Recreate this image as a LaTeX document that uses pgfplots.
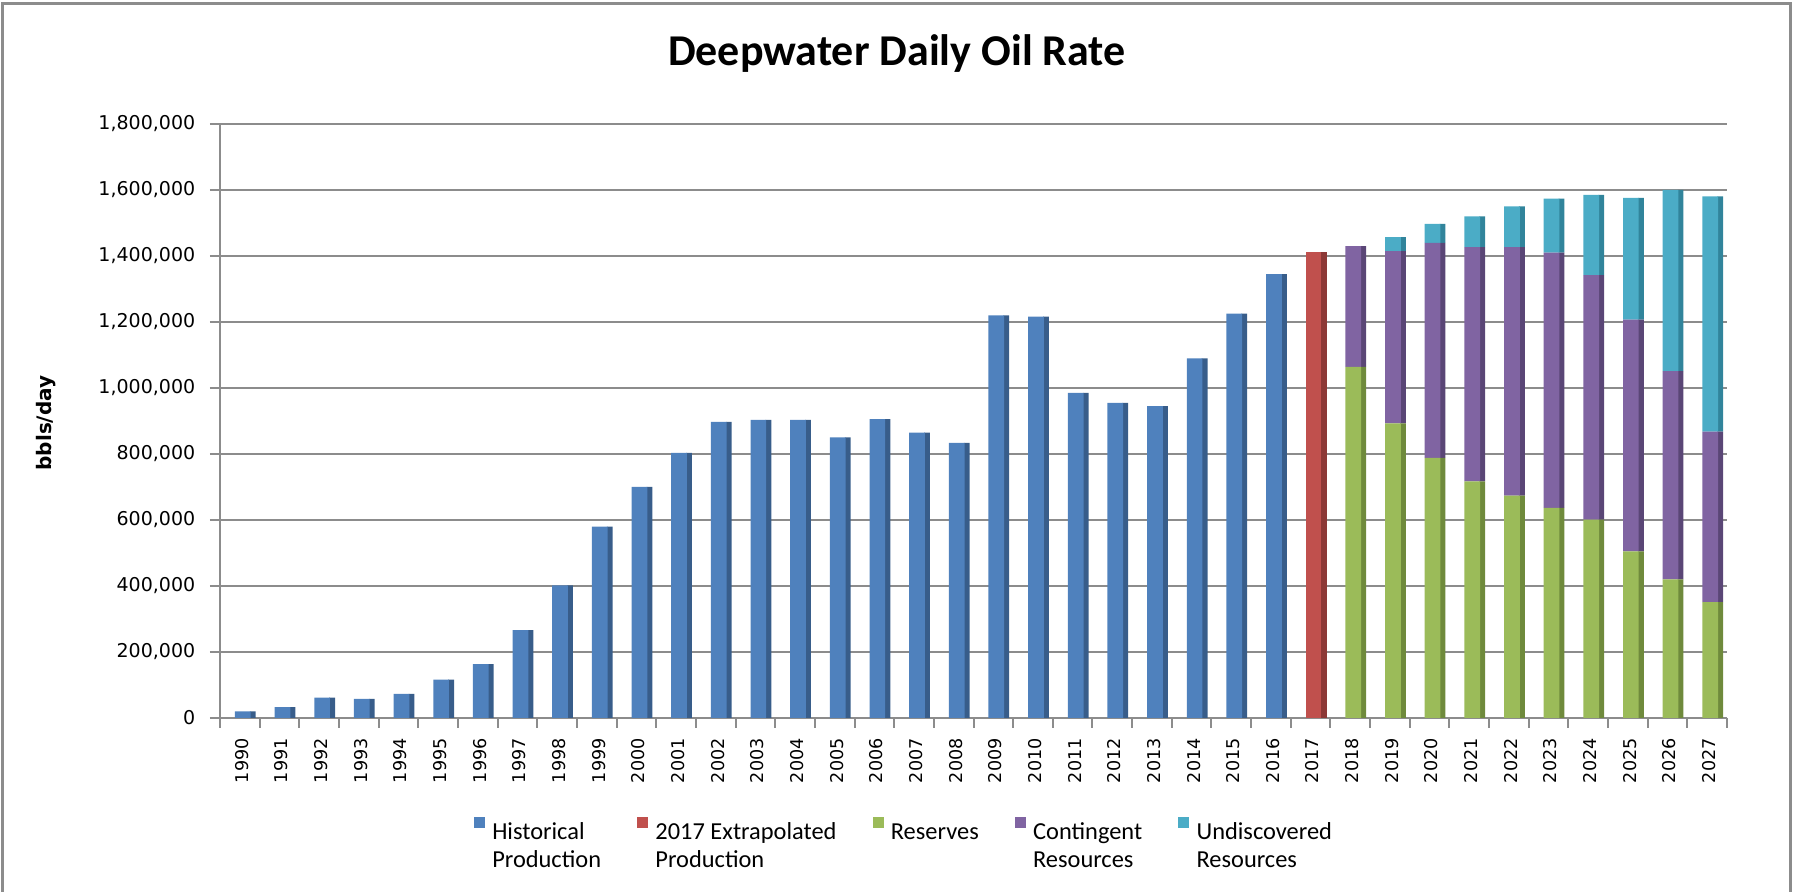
\documentclass[border=0pt]{standalone}
\usepackage{pgfplots}
\pgfplotsset{compat=1.18}
\usepackage{pgfplotstable}
\usepackage{fontspec}
\setmainfont{Carlito}
\newfontfamily\dejavu{DejaVu Sans}

\definecolor{cHist}{HTML}{4F81BD}
\definecolor{sHist}{HTML}{385D8A}
\definecolor{cExt}{HTML}{C0504D}
\definecolor{sExt}{HTML}{8C3836}
\definecolor{cRes}{HTML}{9BBB59}
\definecolor{sRes}{HTML}{6F8A3C}
\definecolor{cCont}{HTML}{8064A2}
\definecolor{sCont}{HTML}{5A4676}
\definecolor{cUnd}{HTML}{4BACC6}
\definecolor{sUnd}{HTML}{31849B}
\definecolor{gridgray}{HTML}{8C8C8C}
\definecolor{bordergray}{HTML}{8C8C8C}

\pgfplotstableread{
x hist ext res cont und
0 20000 0 0 0 0
1 33000 0 0 0 0
2 62000 0 0 0 0
3 58000 0 0 0 0
4 73000 0 0 0 0
5 116000 0 0 0 0
6 163000 0 0 0 0
7 266000 0 0 0 0
8 402000 0 0 0 0
9 580000 0 0 0 0
10 700000 0 0 0 0
11 803000 0 0 0 0
12 897000 0 0 0 0
13 903000 0 0 0 0
14 903000 0 0 0 0
15 850000 0 0 0 0
16 906000 0 0 0 0
17 865000 0 0 0 0
18 834000 0 0 0 0
19 1220000 0 0 0 0
20 1216000 0 0 0 0
21 985000 0 0 0 0
22 955000 0 0 0 0
23 945000 0 0 0 0
24 1090000 0 0 0 0
25 1225000 0 0 0 0
26 1345000 0 0 0 0
27 0 1413000 0 0 0
28 0 0 1064000 366000 0
29 0 0 893000 522000 42000
30 0 0 788000 652000 57000
31 0 0 717000 710000 93000
32 0 0 674000 753000 123000
33 0 0 637000 773000 164000
34 0 0 601000 741000 243000
35 0 0 505000 702000 369000
36 0 0 420000 631000 549000
37 0 0 351000 517000 713000
}\oildata

\pgfplotsset{
  oilbase/.style={
    at={(110pt,87pt)}, anchor=south west,
    scale only axis, width=753.5pt, height=297pt,
    xmin=-0.5, xmax=37.5, ymin=0, ymax=1800000,
    ybar stacked,
  }
}

\begin{document}
\begin{tikzpicture}
\useasboundingbox (0,0) rectangle (897pt,446pt);
\draw[bordergray, line width=1.2pt] (1.2pt,-5pt) -- (1.2pt,444.2pt) -- (895.2pt,444.2pt) -- (895.2pt,-5pt);

% back axis: grid, axes, ticks, labels and the dark side faces of the bars
\begin{axis}[oilbase,
  bar width=2.9pt,
  axis x line=bottom, axis y line=left,
  axis line style={-, draw=gridgray, line width=1pt},
  ymajorgrids, grid style={draw=gridgray, line width=0.9pt},
  ytick={0,200000,400000,600000,800000,1000000,1200000,1400000,1600000,1800000},
  scaled y ticks=false,
  /pgf/number format/assume math mode=true,
  tick align=outside, major tick length=5pt,
  tick style={draw=gridgray, line width=1pt},
  xticklabel style={font=\dejavu\fontsize{8.8}{10}\selectfont},
  yticklabel style={font=\dejavu\fontsize{9.5}{11}\selectfont, /pgf/number format/fixed, /pgf/number format/precision=0, /pgf/number format/1000 sep={,}, anchor=east, inner sep=0pt, xshift=-7.2pt},
  xtick={-0.5,0.5,...,37.5},
  xticklabels={1990,1991,1992,1993,1994,1995,1996,1997,1998,1999,2000,2001,2002,2003,2004,2005,2006,2007,2008,2009,2010,2011,2012,2013,2014,2015,2016,2017,2018,2019,2020,2021,2022,2023,2024,2025,2026,2027,{}},
  xticklabel style={xshift=10.9pt, yshift=-5pt, rotate=90, anchor=east, inner sep=0pt},
  ylabel={bbls/day},
  every axis y label/.style={at={(axis description cs:-0.1155,0.4966)}, rotate=90, anchor=center, font=\dejavu\bfseries\fontsize{10}{12}\selectfont},
  title={Deepwater Daily Oil Rate},
  every axis title/.style={at={(axis description cs:0.4492,1.1178)}, anchor=center, font=\bfseries\fontsize{22}{26}\selectfont},
]
\addplot+[bar shift=6.5pt, fill=sHist, draw=none, forget plot] table[x=x, y=hist] {\oildata};
\addplot+[bar shift=6.5pt, fill=sExt, draw=none, forget plot] table[x=x, y=ext] {\oildata};
\addplot+[bar shift=6.5pt, fill=sRes, draw=none, forget plot] table[x=x, y=res] {\oildata};
\addplot+[bar shift=6.5pt, fill=sCont, draw=none, forget plot] table[x=x, y=cont] {\oildata};
\addplot+[bar shift=6.5pt, fill=sUnd, draw=none, forget plot] table[x=x, y=und] {\oildata};
\end{axis}

% front axis: the front faces of the bars and the legend
\begin{axis}[oilbase,
  bar width=7.85pt,
  hide axis,
  every axis plot post/.append style={legend image code/.code={\fill[##1] (0pt,1.65pt) rectangle (5.5pt,7.15pt);}},
  legend columns=5,
  legend cell align=left,
  legend style={at={(axis description cs:0.4545,-0.1566)}, anchor=north, draw=none, fill=none,
    font=\fontsize{12.2}{14.2}\selectfont,
    /tikz/every even column/.append style={column sep=16pt}},
]
\addplot+[bar shift=1.5pt, fill=cHist, draw=none] table[x=x, y=hist] {\oildata};
\addlegendentry{\begin{tabular}[t]{@{\hspace{1.7pt}}l@{}}Historical\\Production\end{tabular}}
\addplot+[bar shift=1.5pt, fill=cExt, draw=none] table[x=x, y=ext] {\oildata};
\addlegendentry{\begin{tabular}[t]{@{\hspace{1.7pt}}l@{}}2017 Extrapolated\\Production\end{tabular}}
\addplot+[bar shift=1.5pt, fill=cRes, draw=none] table[x=x, y=res] {\oildata};
\addlegendentry{\begin{tabular}[t]{@{\hspace{1.7pt}}l@{}}Reserves\end{tabular}}
\addplot+[bar shift=1.5pt, fill=cCont, draw=none] table[x=x, y=cont] {\oildata};
\addlegendentry{\begin{tabular}[t]{@{\hspace{1.7pt}}l@{}}Contingent\\Resources\end{tabular}}
\addplot+[bar shift=1.5pt, fill=cUnd, draw=none] table[x=x, y=und] {\oildata};
\addlegendentry{\begin{tabular}[t]{@{\hspace{1.7pt}}l@{}}Undiscovered\\Resources\end{tabular}}
\end{axis}
\end{tikzpicture}
\end{document}
